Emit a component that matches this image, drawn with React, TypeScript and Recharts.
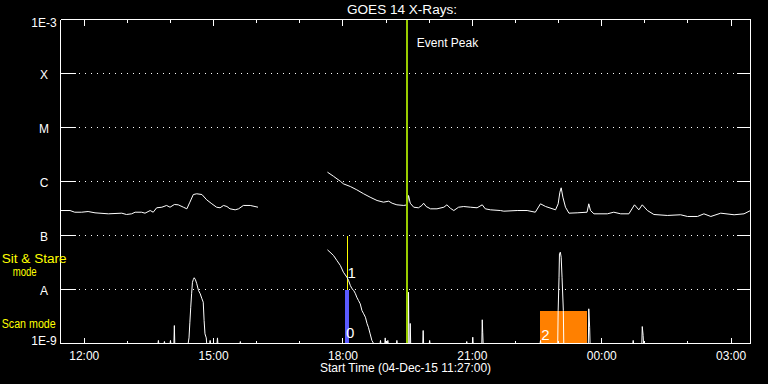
import React from 'react';
import {
  ComposedChart,
  Line,
  XAxis,
  YAxis,
  CartesianGrid,
  ReferenceLine,
  ReferenceArea,
} from 'recharts';

// ---------- data (time in decimal hours of 04-Dec-15; >24 = next day) ----------
const xDomain: [number, number] = [11.45, 27.45];
const hourTicks = [12, 13, 14, 15, 16, 17, 18, 19, 20, 21, 22, 23, 24, 25, 26, 27];
const xMajorHours = [12, 15, 18, 21, 24, 27];
const xMajorLabels = ['12:00', '15:00', '18:00', '21:00', '00:00', '03:00'];

const yDomain: [number, number] = [1e-9, 1e-3];
const yTickValues = [1e-9, 1e-8, 1e-7, 1e-6, 1e-5, 1e-4, 1e-3];
const yTickLabels = ['1E-9', 'A', 'B', 'C', 'M', 'X', '1E-3'];

// GOES long channel (1-8 A), first stretch
const longSeg1: [number, number][] = [
  [11.45, 2.9e-7], [11.67, 2.9e-7], [11.78, 2.7e-7], [11.94, 2.7e-7], [12.09, 2.78e-7],
  [12.25, 2.63e-7], [12.56, 2.52e-7], [12.87, 2.59e-7], [12.98, 2.45e-7], [13.1, 2.52e-7],
  [13.18, 2.7e-7], [13.33, 2.7e-7], [13.41, 2.59e-7], [13.53, 2.9e-7], [13.6, 2.7e-7],
  [13.68, 3.26e-7], [13.8, 3.34e-7], [13.91, 3.6e-7], [13.99, 3.34e-7], [14.09, 3.75e-7],
  [14.18, 3.7e-7], [14.3, 3.34e-7], [14.38, 3.12e-7], [14.45, 4.14e-7], [14.53, 5.74e-7],
  [14.61, 5.92e-7], [14.73, 5.74e-7], [14.84, 4.58e-7], [14.96, 3.86e-7], [15.07, 3.34e-7],
  [15.15, 3.26e-7], [15.23, 3.6e-7], [15.31, 3.44e-7], [15.38, 3.12e-7], [15.5, 2.99e-7],
  [15.58, 3.12e-7], [15.69, 3.6e-7], [15.85, 3.6e-7], [16.03, 3.34e-7],
];

// GOES long channel, second stretch
const longSeg2: [number, number][] = [
  [17.64, 1.49e-6], [17.78, 1.25e-6], [17.94, 1.01e-6], [18.01, 9.06e-7], [18.17, 8.08e-7],
  [18.32, 7.02e-7], [18.48, 5.92e-7], [18.63, 5.12e-7], [18.79, 4.45e-7], [18.94, 4.14e-7],
  [19.06, 4.32e-7], [19.14, 3.96e-7], [19.25, 3.7e-7], [19.41, 3.6e-7], [19.49, 3.7e-7],
  [19.52, 5.5e-7], [19.56, 3.96e-7], [19.64, 3.34e-7], [19.75, 3.26e-7], [19.83, 3.6e-7],
  [19.87, 3.96e-7], [19.93, 3.44e-7], [20.03, 3.12e-7], [20.18, 3.12e-7], [20.34, 3.34e-7],
  [20.41, 3.7e-7], [20.49, 3.2e-7], [20.57, 2.9e-7], [20.68, 3.34e-7], [20.8, 3.44e-7],
  [20.96, 3.34e-7], [21.11, 3.26e-7], [21.23, 3.7e-7], [21.3, 3.12e-7], [21.42, 2.99e-7],
  [21.65, 2.9e-7], [21.73, 2.82e-7], [22.04, 2.9e-7], [22.27, 2.9e-7], [22.46, 2.7e-7],
  [22.58, 3.86e-7], [22.7, 3.44e-7], [22.93, 2.99e-7], [22.99, 3.86e-7], [23.03, 6.34e-7],
  [23.06, 7.64e-7], [23.1, 5.12e-7], [23.16, 3.34e-7], [23.24, 2.59e-7], [23.43, 2.63e-7],
  [23.66, 2.7e-7], [23.7, 3.86e-7], [23.74, 2.9e-7], [23.82, 2.52e-7], [24.13, 2.52e-7],
  [24.28, 2.7e-7], [24.44, 2.52e-7], [24.63, 2.52e-7], [24.76, 3.7e-7], [24.86, 2.99e-7],
  [24.94, 3.7e-7], [25.06, 2.9e-7], [25.21, 2.45e-7], [25.52, 2.35e-7], [25.83, 2.42e-7],
  [25.99, 2.25e-7], [26.22, 2.25e-7], [26.37, 2.52e-7], [26.53, 2.25e-7], [26.76, 2.59e-7],
  [27.07, 2.42e-7], [27.3, 2.52e-7], [27.45, 2.9e-7],
];

// GOES short channel (0.5-4 A), first stretch
const shortSeg1: [number, number][] = [
  [11.45, 1e-9], [13.71, 1e-9], [13.72, 1.14e-9], [13.73, 1e-9],
  [13.85, 1e-9], [13.86, 1.09e-9], [13.87, 1e-9],
  [13.99, 1e-9], [14.0, 1.14e-9], [14.01, 1e-9],
  [14.08, 1e-9], [14.09, 2.15e-9], [14.1, 1e-9],
  [14.41, 1e-9], [14.43, 1.27e-9], [14.45, 2.48e-9], [14.47, 4.7e-9], [14.49, 8.32e-9],
  [14.51, 1.36e-8], [14.53, 1.53e-8], [14.55, 1.65e-8], [14.58, 1.51e-8], [14.61, 1.28e-8],
  [14.65, 9.58e-9], [14.69, 8.32e-9], [14.73, 6.73e-9], [14.76, 5.82e-9], [14.78, 2.67e-9],
  [14.8, 1.51e-9], [14.83, 1.27e-9], [14.84, 1e-9],
  [14.91, 1e-9], [14.92, 1.14e-9], [14.93, 1e-9],
  [15.08, 1e-9], [15.09, 1.27e-9], [15.1, 1e-9],
  [15.61, 1e-9], [15.62, 1.09e-9], [15.63, 1e-9],
  [16.03, 1e-9],
];

// GOES short channel, second stretch
const shortSeg2: [number, number][] = [
  [17.64, 5.43e-8], [17.7, 4.91e-8], [17.78, 4.27e-8], [17.86, 3.44e-8], [17.94, 2.78e-8],
  [18.01, 2.09e-8], [18.09, 1.69e-8], [18.13, 1.47e-8], [18.17, 1.19e-8], [18.21, 1.03e-8],
  [18.25, 9.58e-9], [18.29, 8.32e-9], [18.32, 7.2e-9], [18.36, 6.25e-9], [18.4, 5.43e-9],
  [18.44, 4.08e-9], [18.48, 3.55e-9], [18.52, 3.07e-9], [18.56, 2.32e-9], [18.59, 2.0e-9],
  [18.63, 1.51e-9], [18.67, 1.14e-9], [18.71, 1e-9],
  [18.86, 1e-9], [18.87, 1.14e-9], [18.88, 1e-9],
  [18.97, 1e-9], [18.98, 1.27e-9], [18.99, 1e-9],
  [19.03, 1e-9], [19.04, 1.14e-9], [19.05, 1e-9],
  [19.24, 1e-9], [19.25, 1.14e-9], [19.26, 1e-9],
  [19.51, 1e-9], [19.52, 8.91e-9], [19.53, 1e-9],
  [19.55, 1e-9], [19.56, 2.35e-9], [19.57, 1e-9],
  [19.85, 1e-9], [19.86, 1.74e-9], [19.87, 1e-9],
  [20.0, 1e-9], [20.01, 1.14e-9], [20.02, 1e-9],
  [20.86, 1e-9], [20.87, 1.09e-9], [20.88, 1e-9],
  [21.0, 1e-9], [21.01, 1.31e-9], [21.02, 1e-9],
  [21.22, 1e-9], [21.23, 2.75e-9], [21.24, 1.62e-9], [21.25, 1e-9],
  [22.57, 1e-9], [22.58, 1.14e-9], [22.59, 1e-9],
  [22.98, 1e-9], [22.99, 4.08e-9], [23.01, 1.69e-8], [23.02, 4.58e-8], [23.04, 4.91e-8],
  [23.06, 3.96e-8], [23.08, 1.69e-8], [23.11, 4.08e-9], [23.12, 1e-9],
  [23.69, 1e-9], [23.7, 4.39e-9], [23.72, 2.0e-9], [23.73, 1e-9],
  [24.72, 1e-9], [24.73, 1.14e-9], [24.74, 1e-9],
  [24.93, 1e-9], [24.94, 2.06e-9], [24.96, 1.41e-9], [24.97, 1e-9],
  [27.45, 1e-9],
];

// annotations
const eventPeakHour = 19.48;
const block0 = { start: 18.05, end: 18.13, from: 1e-9, to: 1e-8, label: '0' };
const line1 = { at: 18.11, from: 1e-8, to: 1e-7, label: '1' };
const block2 = { start: 22.58, end: 23.65, from: 1e-9, to: 4.08e-9, label: '2' };

// ---------- rendering ----------
const FONT = '"Liberation Sans", Arial, sans-serif';
const CRISP = 'crispEdges';
const rows = (s: [number, number][]) => s.map(([t, f]) => ({ t, f }));

const BottomTick = (p: any) => {
  const { x, y, payload } = p;
  const i = xMajorHours.indexOf(payload.value);
  const major = i >= 0;
  return (
    <g>
      <line x1={x} y1={y} x2={x} y2={y - (major ? 6 : 3)} stroke="#fff" shapeRendering={CRISP} />
      {major && (
        <text x={x} y={y + 16} fill="#fff" textAnchor="middle" fontSize={12} fontFamily={FONT}>
          {xMajorLabels[i]}
        </text>
      )}
    </g>
  );
};

const TopTick = (p: any) => {
  const { x, y, payload } = p;
  const major = xMajorHours.indexOf(payload.value) >= 0;
  return <line x1={x} y1={y} x2={x} y2={y + (major ? 6 : 3)} stroke="#fff" shapeRendering={CRISP} />;
};

const LeftTick = (p: any) => {
  const { x, y, payload } = p;
  const i = yTickValues.indexOf(payload.value);
  const dy = i === 0 ? 1 : i === yTickValues.length - 1 ? 7.5 : 5;
  return (
    <g>
      <line x1={x} y1={y} x2={x + 15} y2={y} stroke="#fff" shapeRendering={CRISP} />
      <text x={x - 16.5} y={y + dy} fill="#fff" textAnchor="middle" fontSize={12} fontFamily={FONT}>
        {yTickLabels[i]}
      </text>
    </g>
  );
};

const RightTick = (p: any) => {
  const { x, y } = p;
  return <line x1={x} y1={y} x2={x - 14} y2={y} stroke="#fff" shapeRendering={CRISP} />;
};

const peakShape = (p: any) => (
  <g>
    <line x1={p.x1} y1={p.y1} x2={p.x2} y2={p.y2} stroke="#99cc00" strokeWidth={2} shapeRendering={CRISP} />
    <text x={Math.max(p.x1, p.x2) + 10} y={Math.min(p.y1, p.y2) + 27} fill="#fff" fontSize={12} fontFamily={FONT}>
      Event Peak
    </text>
  </g>
);

const line1Shape = (p: any) => (
  <g>
    <line x1={p.x1} y1={p.y1} x2={p.x2} y2={p.y2} stroke="#ffff00" strokeWidth={1} shapeRendering={CRISP} />
    <text x={p.x1 + 4} y={Math.max(p.y1, p.y2) - 11.5} fill="#fff" textAnchor="middle" fontSize={15} fontFamily={FONT}>
      {line1.label}
    </text>
  </g>
);

const block0Shape = (p: any) => (
  <g>
    <rect x={p.x} y={p.y} width={p.width} height={p.height} fill="#5a5aff" shapeRendering={CRISP} />
    <text x={p.x + p.width + 1.7} y={p.y + p.height - 5.5} fill="#fff" textAnchor="middle" fontSize={15} fontFamily={FONT}>
      {block0.label}
    </text>
  </g>
);

const block2Shape = (p: any) => (
  <g>
    <rect x={p.x} y={p.y} width={p.width} height={p.height} fill="#ff8000" shapeRendering={CRISP} />
    <text x={p.x + 5} y={p.y + p.height - 4} fill="#fff" textAnchor="middle" fontSize={15} fontFamily={FONT}>
      {block2.label}
    </text>
  </g>
);

const axisLineStyle = { stroke: '#fff', shapeRendering: CRISP };

export default function App() {
  const W = 768;
  const H = 384;
  return (
    <div style={{ position: 'absolute', left: 0, top: 0, width: W, height: H, background: '#000' }}>
      <ComposedChart
        width={W}
        height={H}
        margin={{ top: 18.5, right: 16.5, bottom: 39.5, left: 59.5 }}
        style={{ background: '#000' }}
      >
        <CartesianGrid horizontal vertical={false} stroke="#fff" strokeDasharray="1 5" shapeRendering={CRISP} />
        <XAxis
          dataKey="t"
          type="number"
          domain={xDomain}
          ticks={hourTicks}
          interval={0}
          allowDataOverflow
          height={1}
          tickSize={0}
          tickMargin={0}
          tickLine={false}
          axisLine={axisLineStyle}
          tick={BottomTick}
        />
        <XAxis
          xAxisId="top"
          orientation="top"
          dataKey="t"
          type="number"
          domain={xDomain}
          ticks={hourTicks}
          interval={0}
          allowDataOverflow
          height={1}
          tickSize={0}
          tickMargin={0}
          tickLine={false}
          axisLine={axisLineStyle}
          tick={TopTick}
        />
        <YAxis
          type="number"
          scale="log"
          domain={yDomain}
          ticks={yTickValues}
          interval={0}
          allowDataOverflow
          width={1}
          tickSize={0}
          tickMargin={0}
          tickLine={false}
          axisLine={axisLineStyle}
          tick={LeftTick}
        />
        <YAxis
          yAxisId="right"
          orientation="right"
          type="number"
          scale="log"
          domain={yDomain}
          ticks={yTickValues}
          interval={0}
          allowDataOverflow
          width={1}
          tickSize={0}
          tickMargin={0}
          tickLine={false}
          axisLine={axisLineStyle}
          tick={RightTick}
        />
        <ReferenceArea x1={block0.start} x2={block0.end} y1={block0.from} y2={block0.to} shape={block0Shape} ifOverflow="visible" />
        <ReferenceArea x1={block2.start} x2={block2.end} y1={block2.from} y2={block2.to} shape={block2Shape} ifOverflow="visible" />
        <ReferenceLine
          segment={[{ x: line1.at, y: line1.from }, { x: line1.at, y: line1.to }]}
          shape={line1Shape}
          ifOverflow="visible"
        />
        <Line data={rows(longSeg1)} dataKey="f" type="linear" stroke="#fff" strokeWidth={1} dot={false} isAnimationActive={false} />
        <Line data={rows(longSeg2)} dataKey="f" type="linear" stroke="#fff" strokeWidth={1} dot={false} isAnimationActive={false} />
        <Line data={rows(shortSeg1)} dataKey="f" type="linear" stroke="#fff" strokeWidth={1} dot={false} isAnimationActive={false} />
        <Line data={rows(shortSeg2)} dataKey="f" type="linear" stroke="#fff" strokeWidth={1} dot={false} isAnimationActive={false} />
        <ReferenceLine x={eventPeakHour} shape={peakShape} ifOverflow="visible" />
      </ComposedChart>
      <svg
        width={W}
        height={H}
        style={{ position: 'absolute', left: 0, top: 0, pointerEvents: 'none' }}
      >
        <text x={402} y={14} fill="#fff" textAnchor="middle" fontSize={12} fontFamily={FONT} textLength={110} lengthAdjust="spacingAndGlyphs">
          GOES 14 X-Rays:
        </text>
        <text x={405.5} y={372} fill="#fff" textAnchor="middle" fontSize={12} fontFamily={FONT}>
          Start Time (04-Dec-15 11:27:00)
        </text>
        <text x={1.7} y={263} fill="#ffff00" fontSize={12} fontFamily={FONT} textLength={65} lengthAdjust="spacingAndGlyphs">
          Sit &amp; Stare
        </text>
        <text x={12.7} y={275.5} fill="#ffff00" fontSize={12} fontFamily={FONT} textLength={24} lengthAdjust="spacingAndGlyphs">
          mode
        </text>
        <text x={1.7} y={328.3} fill="#ffff00" fontSize={12} fontFamily={FONT} textLength={54} lengthAdjust="spacingAndGlyphs">
          Scan mode
        </text>
      </svg>
    </div>
  );
}
